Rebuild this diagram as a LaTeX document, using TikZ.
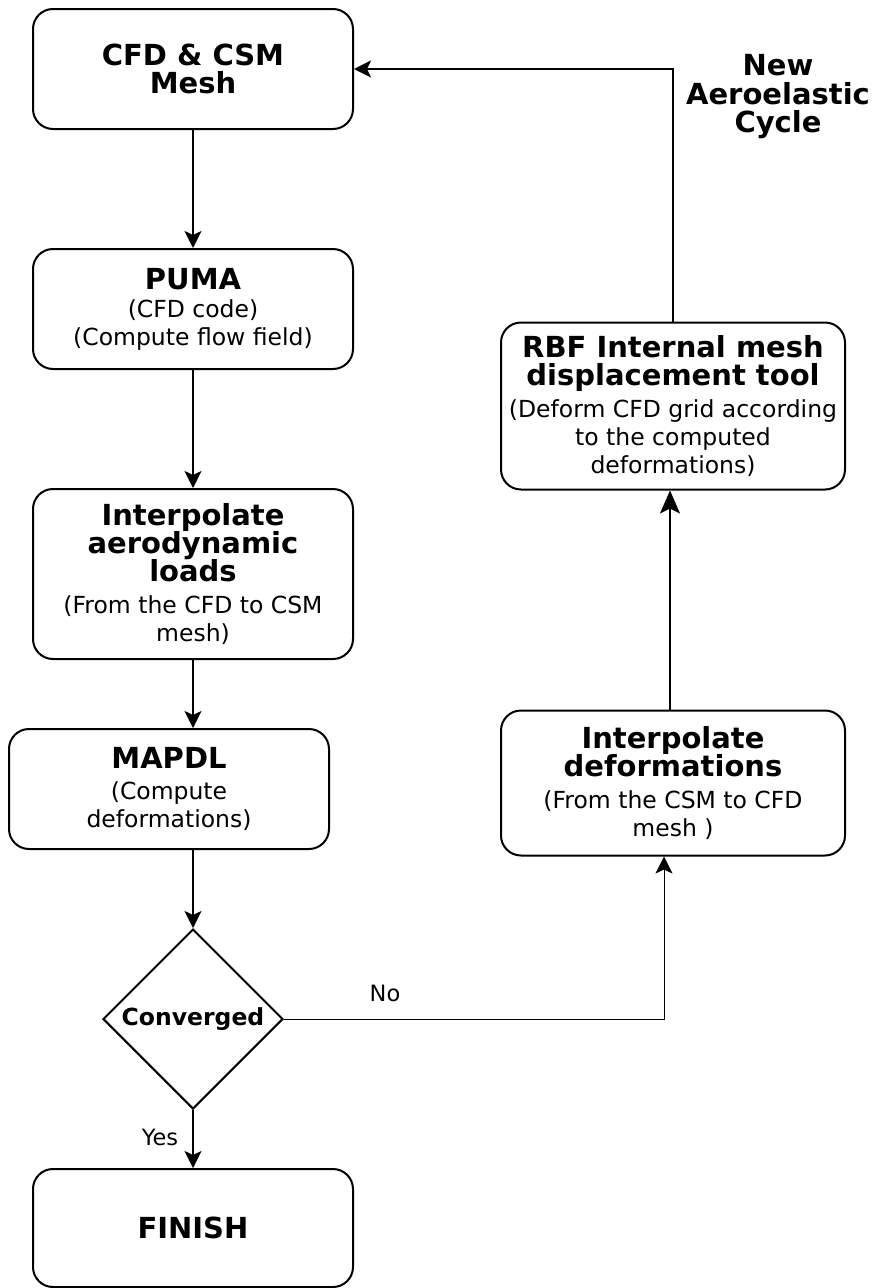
\documentclass[tikz,border=0pt]{standalone}
\usepackage{fontspec}
\setmainfont{DejaVu Sans}
\usetikzlibrary{arrows.meta,shapes.geometric}
\setlength{\lineskiplimit}{-100pt}
\newcommand{\ttl}[1]{{\fontsize{29}{28}\bfseries\selectfont #1}}
\tikzset{
  stepbox/.style={draw, line width=2pt, rounded corners=20pt, minimum width=320pt,
    align=center, inner sep=0pt, font=\fontsize{23.5}{28}\selectfont},
  flow/.style={line width=2pt, -{Stealth[length=17pt,width=17pt,inset=4pt]}},
  thinflow/.style={line width=1pt, -{Stealth[length=17pt,width=17pt,inset=4pt]}},
  lbl/.style={font=\fontsize{22.5}{27}\selectfont, inner sep=0pt}
}

\begin{document}
\begin{tikzpicture}[x=1pt, y=-1pt]
  \useasboundingbox (0,0) rectangle (875,1288);
  % left column
  \node[stepbox, minimum height=120pt] (mesh) at (193,69) {\ttl{CFD \& CSM}\\ \ttl{Mesh}};
  \node[stepbox, minimum height=120pt] (puma) at (193,309)
    {\ttl{PUMA}\\ (CFD code)\\ (Compute flow field)};
  \node[stepbox, minimum height=170pt] (loads) at (193,574)
    {\ttl{Interpolate}\\ \ttl{aerodynamic}\\ \ttl{loads}\\[4pt] (From the CFD to CSM\\ mesh)};
  \node[stepbox, minimum height=120pt] (mapdl) at (169,789)
    {\ttl{MAPDL}\\[3pt] (Compute\\ deformations)};
  \node[draw, diamond, line width=2pt, minimum width=180pt, minimum height=180pt, inner sep=0pt,
    font=\fontsize{23.5}{28}\bfseries\selectfont] (conv) at (193,1019) {Converged};
  \node[stepbox, minimum height=118pt] (finish) at (193,1228) {\ttl{FINISH}};
  % right column
  \node[stepbox, minimum width=344pt, minimum height=167pt] (rbf) at (673,406)
    {\ttl{RBF Internal mesh}\\ \ttl{displacement tool}\\[4pt] (Deform CFD grid according\\ to the computed\\ deformations)};
  \node[stepbox, minimum width=344pt, minimum height=145pt] (idef) at (673,783)
    {\ttl{Interpolate}\\ \ttl{deformations}\\[4pt] (From the CSM to CFD\\ mesh )};
  \node[align=center, inner sep=0pt, font=\fontsize{29}{28.5}\bfseries\selectfont]
    (cycle) at (778,97) {New\\ Aeroelastic\\ Cycle};
  \node[lbl] (no) at (385,993) {No};
  \node[lbl] (yes) at (160,1137) {Yes};

  \draw[flow] (mesh) -- (puma);
  \draw[flow] (puma) -- (loads);
  \draw[flow] (loads) -- (loads |- mapdl.north);
  \draw[flow] (mapdl.south -| conv) -- (conv.north);
  \draw[flow] (conv.south) -- (finish.north);
  \draw[thinflow] (conv.east) -| ([xshift=-9pt]idef.south);
  \draw[line width=2pt, -{Stealth[length=23pt,width=20pt,inset=5pt]}] ([xshift=-3pt]idef.north) -- ([xshift=-3pt]rbf.south);
  \draw[flow] (rbf.north) |- (mesh.east);
\end{tikzpicture}
\end{document}
